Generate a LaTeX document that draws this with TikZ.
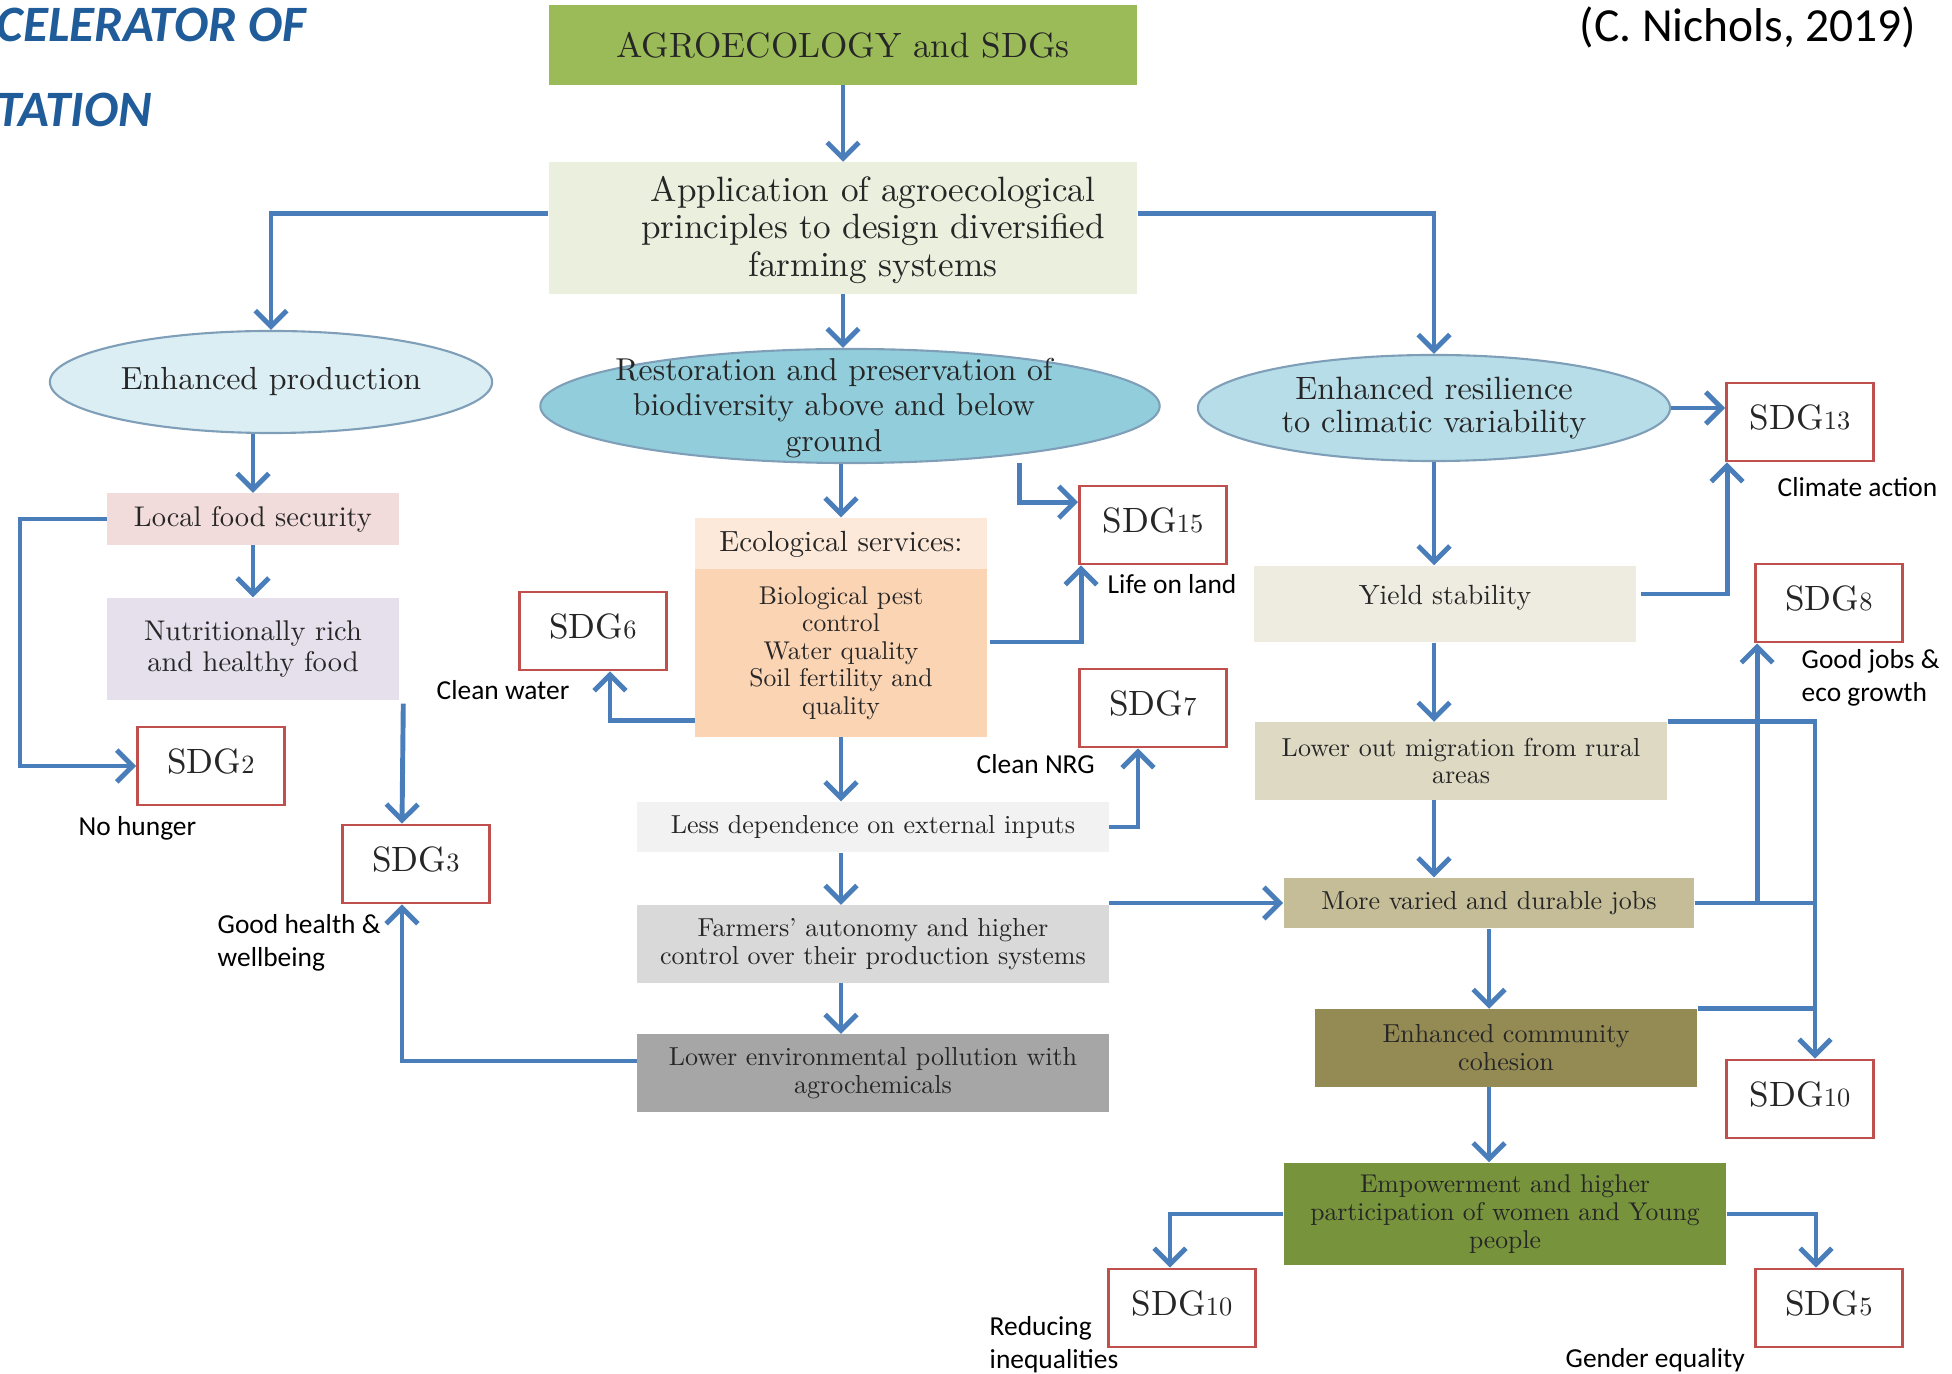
\documentclass[tikz,border=0pt]{standalone}
\usepackage{fontspec}
\setmainfont{lmroman10-regular.otf}
\newfontfamily\calibfont{Carlito}
\usetikzlibrary{shapes.geometric,arrows.meta}

\definecolor{arrowblue}{HTML}{4A7EBB}
\definecolor{sdgred}{HTML}{C0504D}
\definecolor{titleblue}{HTML}{1F5C99}
\definecolor{txtcol}{HTML}{262626}
\definecolor{ellline}{HTML}{7F9FB8}
\definecolor{agrogreen}{HTML}{9BBB59}
\definecolor{applfill}{HTML}{EBF0DE}
\definecolor{prodfill}{HTML}{DBEEF4}
\definecolor{restfill}{HTML}{92CDDC}
\definecolor{resilfill}{HTML}{B7DEE8}
\definecolor{foodfill}{HTML}{F2DCDB}
\definecolor{nutrifill}{HTML}{E5E0EC}
\definecolor{ecohead}{HTML}{FDE9D9}
\definecolor{ecobody}{HTML}{FBD4B4}
\definecolor{lessfill}{HTML}{F2F2F2}
\definecolor{farmfill}{HTML}{D9D9D9}
\definecolor{pollfill}{HTML}{A6A6A6}
\definecolor{yieldfill}{HTML}{EEECE1}
\definecolor{migrfill}{HTML}{DDD9C3}
\definecolor{jobsfill}{HTML}{C4BD97}
\definecolor{commfill}{HTML}{948A54}
\definecolor{empwfill}{HTML}{77933C}

\newcommand{\sdgno}[1]{\raisebox{3pt}{SDG{\fontsize{7.5}{8}\selectfont #1}}}

\tikzset{
  wh/.style 2 args={minimum width=#1cm, minimum height=#2cm},
  box/.style={rectangle, inner sep=0pt, align=center, text=txtcol},
  ell/.style={ellipse, draw=ellline, line width=0.6pt, inner sep=0pt, align=center, text=txtcol},
  sdg/.style={rectangle, draw=sdgred, line width=0.8pt, fill=white, wh={1.47}{0.78},
    text=txtcol, font=\fontsize{10}{11}\selectfont},
  lbl/.style={anchor=west, inner sep=0pt, align=left, font=\calibfont\fontsize{7.8}{9.4}\selectfont},
  arr/.style={draw=arrowblue, line width=1.4pt, -{Straight Barb[length=4.5pt,width=9pt]}},
  ln/.style={draw=arrowblue, line width=1.4pt},
}

\begin{document}
\begin{tikzpicture}[x=0.01cm,y=-0.01cm]

  \useasboundingbox (0,0) rectangle (1952,1374);

  % heading
  \node[anchor=west, inner sep=0pt, text=titleblue, font=\calibfont\bfseries\itshape\fontsize{14.5}{15}\selectfont] (tit1) at (-4,25) {CELERATOR OF};
  \node[anchor=west, inner sep=0pt, text=titleblue, font=\calibfont\bfseries\itshape\fontsize{14.5}{15}\selectfont] (tit2) at (-4,110) {TATION};
  \node[anchor=east, inner sep=0pt, font=\calibfont\fontsize{13.5}{14}\selectfont] (cite) at (1917,27) {(C. Nichols, 2019)};

  \node[box, fill=agrogreen, wh={5.88}{0.79}, font=\fontsize{10}{11}\selectfont] (agro) at (843,45) {AGROECOLOGY and SDGs};
  \node[box, fill=applfill, wh={5.88}{1.31}] (appl) at (843,228) {};
  \node[box, font=\fontsize{10}{10.6}\selectfont] (appltext) at (873,230) {Application of agroecological\\principles to design diversified\\farming systems};

  \node[ell, fill=prodfill, wh={4.42}{1.02}, font=\fontsize{9.1}{10}\selectfont] (prod) at (271,382) {Enhanced production};
  \node[ell, fill=restfill, wh={6.19}{1.14}] (rest) at (850,406) {};
  \node[box, font=\fontsize{9}{10}\selectfont] (resttext) at (834,408) {Restoration and preservation of\\biodiversity above and below\\ground};
  \node[ell, fill=resilfill, wh={4.72}{1.06}, font=\fontsize{9.2}{9.6}\selectfont] (resil) at (1434,408) {Enhanced resilience\\to climatic variability};

  % left column
  \node[box, fill=foodfill, wh={2.91}{0.51}, font=\fontsize{8.1}{9}\selectfont] (food) at (253,519) {Local food security};
  \node[box, fill=nutrifill, wh={2.91}{1.02}, font=\fontsize{8.1}{9}\selectfont] (nutri) at (253,649) {Nutritionally rich\\and healthy food};

  % middle column
  \node[box, fill=ecohead, wh={2.91}{0.52}, font=\fontsize{8.3}{9}\selectfont] (eco) at (841,544) {Ecological services:};
  \node[box, fill=ecobody, wh={2.91}{1.67}, font=\fontsize{7.3}{7.8}\selectfont] (ecolist) at (841,653) {Biological pest\\control\\Water quality\\Soil fertility and\\quality};
  \node[box, fill=lessfill, wh={4.71}{0.50}, font=\fontsize{7.4}{8}\selectfont] (less) at (873,827) {Less dependence on external inputs};
  \node[box, fill=farmfill, wh={4.71}{0.77}, font=\fontsize{7.4}{7.9}\selectfont] (farm) at (873,944) {Farmers' autonomy and higher\\control over their production systems};
  \node[box, fill=pollfill, wh={4.71}{0.77}, font=\fontsize{7.4}{7.9}\selectfont] (poll) at (873,1073) {Lower environmental pollution with\\agrochemicals};

  % right column
  \node[box, fill=yieldfill, wh={3.81}{0.76}, font=\fontsize{7.9}{9}\selectfont] (yield) at (1445,604) {\raisebox{5pt}{Yield stability}};
  \node[box, fill=migrfill, wh={4.12}{0.77}, font=\fontsize{7.4}{7.9}\selectfont] (migr) at (1461,761) {Lower out migration from rural\\areas};
  \node[box, fill=jobsfill, wh={4.10}{0.50}, font=\fontsize{7.4}{8}\selectfont] (jobs) at (1489,903) {More varied and durable jobs};
  \node[box, fill=commfill, wh={3.82}{0.77}, font=\fontsize{7.4}{7.9}\selectfont] (comm) at (1506,1048) {Enhanced community\\cohesion};
  \node[box, fill=empwfill, wh={4.42}{1.02}, font=\fontsize{7.3}{7.9}\selectfont] (empw) at (1505,1214) {Empowerment and higher\\participation of women and Young\\people};

  % goals
  \node[sdg] (sdg13) at (1800,422) {\sdgno{13}};
  \node[sdg] (sdg15) at (1153,525) {\sdgno{15}};
  \node[sdg] (sdg6) at (593,631) {\sdgno{6}};
  \node[sdg] (sdg7) at (1153,708) {\sdgno{7}};
  \node[sdg] (sdg2) at (211,766) {\sdgno{2}};
  \node[sdg] (sdg3) at (416,864) {\sdgno{3}};
  \node[sdg] (sdg8) at (1829,603) {\sdgno{8}};
  \node[sdg] (sdg10r) at (1800,1099) {\sdgno{10}};
  \node[sdg] (sdg10b) at (1182,1308) {\sdgno{10}};
  \node[sdg] (sdg5) at (1829,1308) {\sdgno{5}};

  \node[lbl] (lclim) at (1777,487) {Climate action};
  \node[lbl] (lland) at (1107,584) {Life on land};
  \node[lbl] (lwater) at (436,690) {Clean water};
  \node[lbl] (lnrg) at (976,764) {Clean NRG};
  \node[lbl] (lhung) at (78,828) {No hunger};
  \node[lbl] (lhealth) at (217,943) {Good health \&\\wellbeing};
  \node[lbl] (ljobs) at (1801,678) {Good jobs \&\\eco growth};
  \node[lbl] (lineq) at (989,1345) {Reducing\\inequalities};
  \node[lbl] (lgend) at (1565,1360) {Gender equality};

  % arrows
  \draw[arr] (agro) -- (appl);
  \draw[arr] ([yshift=4pt]appl.west) -| (prod.north);
  \draw[arr] ([yshift=4pt]appl.east) -| (resil.north);
  \draw[arr] (appl.south) -- (appl.south |- rest.north);

  \draw[arr] (prod.south -| food) -- (food);
  \draw[arr] (food) -- (nutri);
  \coordinate (lft) at (20,0);
  \draw[arr] (food.west) -- (food.west -| lft) |- (sdg2.west);
  \draw[arr] ([shift={(4,3)}]nutri.south east) -- ([shift={(-14,0)}]sdg3.north);
  \draw[arr] ([shift={(0,-12)}]poll.west) -| ([shift={(-14,0)}]sdg3.south);

  \draw[arr] (rest.south -| eco) -- (eco);
  \draw[arr] ([shift={(0,8)}]rest.-16) |- ([yshift=-5pt]sdg15.north west);
  \draw[arr] ([shift={(0,-17)}]ecolist.south west) -| ([shift={(17,0)}]sdg6.south);
  \draw[arr] ([shift={(3,-11)}]ecolist.east) -| ([shift={(3,0)}]sdg15.south west);
  \draw[arr] (ecolist.south) -- (ecolist.south |- less.north);
  \draw[arr] (less.east) -| ([shift={(-15,0)}]sdg7.south);
  \draw[arr] (less.south -| ecolist) -- (farm.north -| ecolist);
  \draw[arr] (farm.south -| ecolist) -- (poll.north -| ecolist);
  \draw[arr] (farm.east |- jobs.west) -- (jobs.west);

  \draw[arr] (resil.east) -- (resil.east -| sdg13.west);
  \draw[arr] (resil.south) -- (resil.south |- yield.north);
  \draw[arr] ([shift={(5,-10)}]yield.east) -| ([shift={(2,0)}]sdg13.south west);
  \draw[arr] (yield.south -| resil) -- (migr.north -| resil);
  \draw[arr] (migr.south -| resil) -- (jobs.north -| resil);
  \draw[arr] (jobs.east) -| ([shift={(3,0)}]sdg8.south west);
  \coordinate (bus) at ([shift={(15,0)}]sdg10r.north);
  \draw[arr] (migr.north east) -| (bus);
  \draw[ln] (jobs.east) -- (jobs.east -| bus);
  \draw[ln] (comm.north east) -- (comm.north east -| bus);
  \draw[arr] (jobs.south) -- (jobs.south |- comm.north);
  \draw[arr] (comm.south -| jobs) -- (empw.north -| jobs);
  \draw[arr] (empw.west) -| ([shift={(-12,0)}]sdg10b.north);
  \draw[arr] (empw.east) -| ([shift={(-13,0)}]sdg5.north);

\end{tikzpicture}
\end{document}
